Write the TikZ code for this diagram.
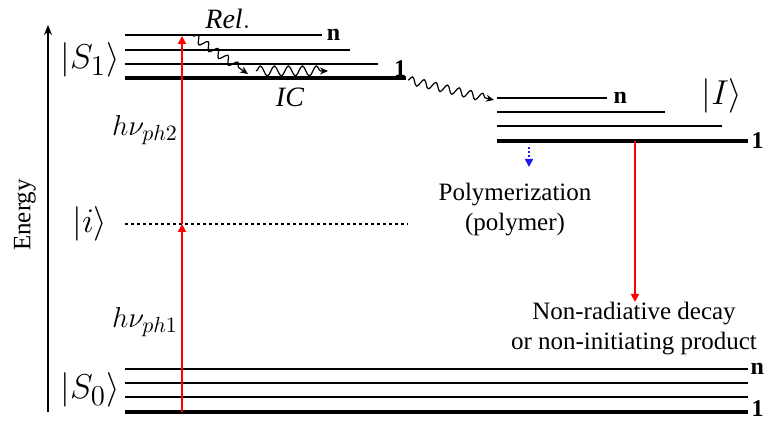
\documentclass[tikz,border=0pt]{standalone}
\usepackage{fontspec}
\setmainfont{Liberation Serif}
\usetikzlibrary{arrows.meta,positioning,decorations.pathmorphing,calc}
\definecolor{pumpRed}{HTML}{FF0000}
\definecolor{polyBlue}{HTML}{1A1AF0}

\begin{document}
\begin{tikzpicture}[
  x=0.5pt, y=-0.5pt,
  every node/.style={align=center, inner sep=0pt},
  txt/.style={font=\rmfamily\fontsize{12.5}{15}\selectfont},
  idx/.style={font=\rmfamily\fontsize{12}{14}\selectfont\bfseries},
  ket/.style={font=\fontsize{19}{22}\selectfont},
  photon/.style={font=\fontsize{15}{18}\selectfont},
  lvl/.style={line width=0.75pt},
  lvlone/.style={line width=1.6pt},
  virt/.style={line width=1.1pt, dash pattern=on 1.5pt off 1.5pt},
  pump/.style={-{Triangle[length=4pt,width=4pt]}, pumpRed, line width=0.9pt},
  wiggle/.style={-{Stealth[length=4pt,width=3.5pt]}, line width=0.6pt,
    decorate, decoration={snake, amplitude=2pt, segment length=6pt, post length=3pt}},
  polyarrow/.style={-{Triangle[length=4pt,width=4pt]}, polyBlue, line width=0.8pt, dash pattern=on 1pt off 1pt}
]
\useasboundingbox (0,0) rectangle (768,421);

% Energy axis
\coordinate (ebot) at (48,412);
\coordinate (etop) at (48,25);
\draw[-{Stealth[length=5pt,width=4pt]}, line width=0.8pt] (ebot) -- (etop);
\node[txt, rotate=90] (energy) at (25,215) {Energy};

% |S1> manifold
\draw[lvl] (125,35) -- (322,35) node[idx, anchor=west, xshift=2pt] (s1n) {n};
\draw[lvl] (125,50) -- (350,50);
\draw[lvl] (125,64) -- (378,64);
\draw[lvlone] (125,78) -- (406,78);
\node[idx] (s1one) at (400,69) {1};
\node[ket] (s1ket) at (90,60) {$|S_1\rangle$};

% virtual state |i>
\draw[virt] (125,224) -- (408,224);
\node[ket] (iket) at (90,224) {$|i\rangle$};

% |S0> manifold
\draw[lvl] (125,369) -- (748,369) node[idx, anchor=west, xshift=1pt] (s0n) {n};
\draw[lvl] (125,383) -- (748,383);
\draw[lvl] (125,397) -- (748,397);
\draw[lvlone] (125,412) -- (748,412) node[idx, anchor=west, xshift=1pt, yshift=1.5pt] (s0one) {1};
\node[ket] (s0ket) at (90,390) {$|S_0\rangle$};

% |I> manifold
\draw[lvl] (497,98) -- (607,98) node[idx, anchor=west, xshift=3pt] (in) {n};
\draw[lvl] (497,112) -- (665,112);
\draw[lvl] (497,126) -- (722,126);
\draw[lvlone] (497,141) -- (748,141) node[idx, anchor=west, xshift=1pt] (ione) {1};
\node[ket] (iiket) at (722,96) {$|I\rangle$};

% two-photon absorption
\coordinate (absA) at (182,412);
\coordinate (absB) at (182,224);
\coordinate (absC) at (182,36);
\draw[pump] (absA) -- (absB);
\draw[pump] (absB) -- (absC);
\node[photon] (ph1) at (145,322) {$h\nu_{ph1}$};
\node[photon] (ph2) at (145,130) {$h\nu_{ph2}$};

% relaxation and internal conversion
\coordinate (relA) at (193,36);
\coordinate (relB) at (248,74);
\coordinate (icA) at (256,71);
\coordinate (icB) at (328,71);
\draw[wiggle] (relA) -- (relB);
\draw[wiggle, decoration={snake, amplitude=2.5pt, segment length=7pt, post length=3pt}] (icA) -- (icB);
\node[photon, font=\fontsize{14}{16}\selectfont] (rel) at (228,19) {$\mathit{Rel.}$};
\node[photon, font=\fontsize{14}{16}\selectfont] (ic) at (290,97) {$\mathit{IC}$};

% intersystem transfer to |I>
\coordinate (isA) at (408,80);
\coordinate (isB) at (494,100);
\draw[wiggle] (isA) -- (isB);

% channels out of |I>
\coordinate (polyA) at (529,147);
\coordinate (polyB) at (529,167);
\draw[polyarrow] (polyA) -- (polyB);
\node[txt] (poly) at (515,210) {Polymerization\\(polymer)};

\coordinate (decA) at (635,141);
\node[txt, anchor=north] (decay) at (634,302) {Non-radiative decay\\or non-initiating product};
\draw[pump] (decA) -- (decay.north -| decA);
\end{tikzpicture}
\end{document}
